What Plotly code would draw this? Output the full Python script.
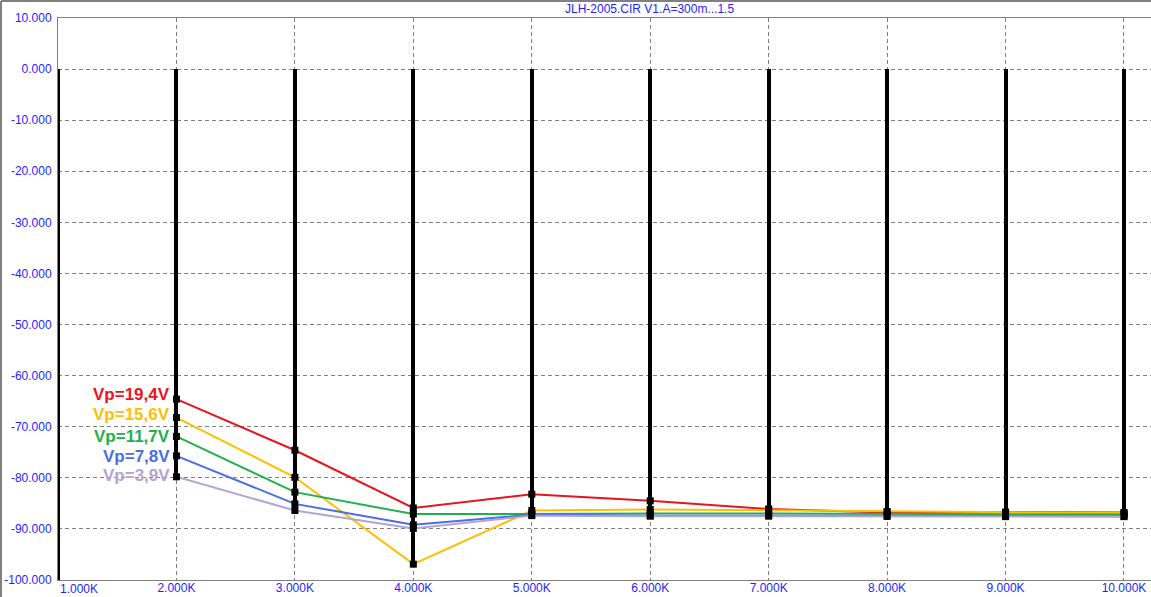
import plotly.graph_objects as go

# ---- data ----
freq = [2000, 3000, 4000, 5000, 6000, 7000, 8000, 9000, 10000]
vp_19_4 = [-64.6, -74.6, -85.9, -83.2, -84.5, -86.1, -86.8, -86.7, -86.8]
vp_15_6 = [-68.2, -79.9, -96.9, -86.4, -86.2, -86.4, -86.6, -86.8, -86.9]
vp_11_7 = [-71.9, -82.8, -87.1, -87.0, -87.0, -87.0, -87.1, -87.2, -87.2]
vp_7_8 = [-75.7, -85.1, -89.2, -87.2, -87.4, -87.4, -87.5, -87.5, -87.5]
vp_3_9 = [-79.8, -86.4, -89.9, -87.4, -87.5, -87.5, -87.5, -87.6, -87.6]

impulse_freq = [1000, 2000, 3000, 4000, 5000, 6000, 7000, 8000, 9000, 10000]
impulse_db = [-110, -80.0, -86.5, -97.0, -87.5, -87.6, -87.6, -88.2, -87.6, -87.6]

series_names = ["Vp=19,4V", "Vp=15,6V", "Vp=11,7V", "Vp=7,8V", "Vp=3,9V"]
series_values = [vp_19_4, vp_15_6, vp_11_7, vp_7_8, vp_3_9]
series_colors = ["#e8141e", "#ffbf00", "#22b04c", "#4a6ee8", "#b4a4d4"]
label_y = [-63.6, -67.6, -71.9, -75.8, -79.6]

x_tickvals = [2000, 3000, 4000, 5000, 6000, 7000, 8000, 9000, 10000]
x_ticktext = ["2.000K", "3.000K", "4.000K", "5.000K", "6.000K", "7.000K", "8.000K", "9.000K", "10.000K"]
y_tickvals = [10, 0, -10, -20, -30, -40, -50, -60, -70, -80, -90, -100]
y_ticktext = ["10.000", "0.000", "-10.000", "-20.000", "-30.000", "-40.000", "-50.000",
              "-60.000", "-70.000", "-80.000", "-90.000", "-100.000"]
title_text = "JLH-2005.CIR V1.A=300m...1.5"

FONT = "Liberation Sans, Arial, sans-serif"
TICK_COLOR = "#1e1eff"
W, H = 1151, 597
ML, MR, MT, MB = 58, 0, 18, 17

fig = go.Figure()

fig.add_trace(go.Bar(
    x=impulse_freq, y=impulse_db, width=34,
    marker=dict(color="black", line=dict(width=0)),
    showlegend=False, hoverinfo="skip",
))

for name, vals, col in zip(series_names, series_values, series_colors):
    fig.add_trace(go.Scatter(
        x=freq, y=vals, name=name, mode="lines+markers",
        line=dict(color=col, width=2),
        marker=dict(symbol="square", size=7, color="black", line=dict(width=0)),
        showlegend=False,
    ))

annotations = []
for name, ly, col in zip(series_names, label_y, series_colors):
    annotations.append(dict(
        x=1960, y=ly, xref="x", yref="y", text="<b>%s</b>" % name,
        showarrow=False, xanchor="right", yanchor="middle",
        font=dict(family=FONT, size=17, color=col),
    ))
# 1.000K label (left aligned at axis)
annotations.append(dict(
    x=0, y=0, xref="paper", yref="paper", text="1.000K", showarrow=False,
    xanchor="left", yanchor="top", yshift=0,
    font=dict(family=FONT, size=12, color=TICK_COLOR),
))
# title in top strip
pw = W - ML - MR
ph = H - MT - MB
annotations.append(dict(
    x=(649 - ML) / pw, y=1 + 9 / ph, xref="paper", yref="paper", text=title_text,
    showarrow=False, xanchor="center", yanchor="middle",
    font=dict(family=FONT, size=12, color=TICK_COLOR),
))

# outer frame: top and left edges only
fx0 = (-ML + 1) / pw
fy1 = 1 + (MT - 1) / ph
fy0 = -MB / ph
shapes = [
    dict(type="line", xref="paper", yref="paper", x0=fx0, x1=1, y0=fy1, y1=fy1,
         line=dict(color="#808080", width=2), layer="above"),
    dict(type="line", xref="paper", yref="paper", x0=fx0, x1=fx0, y0=fy0, y1=fy1,
         line=dict(color="#808080", width=2), layer="above"),
]

fig.update_layout(
    template="none",
    width=W, height=H,
    margin=dict(l=ML, r=MR, t=MT, b=MB, pad=0, autoexpand=False),
    paper_bgcolor="white", plot_bgcolor="white",
    font=dict(family=FONT, size=12, color=TICK_COLOR),
    annotations=annotations, shapes=shapes,
    bargap=0,
)
fig.update_xaxes(
    automargin=False,
    range=[1000, 10228], tickvals=x_tickvals, ticktext=x_ticktext,
    showgrid=True, gridcolor="#808080", griddash="4px,3px", gridwidth=1,
    showline=True, linecolor="#808080", linewidth=1, mirror=True,
    zeroline=False, ticks="", tickfont=dict(family=FONT, size=12, color=TICK_COLOR),
    ticklabelstandoff=-3,
)
fig.update_yaxes(
    automargin=False,
    range=[-100, 10], tickvals=y_tickvals, ticktext=y_ticktext,
    showgrid=True, gridcolor="#808080", griddash="4px,3px", gridwidth=1,
    showline=True, linecolor="#808080", linewidth=1,
    zeroline=False, ticks="", tickfont=dict(family=FONT, size=12, color=TICK_COLOR),
    ticklabelstandoff=3,
)

fig.write_html(
    "out.html",
    config={"displayModeBar": False},
    post_script="document.body.style.margin='0';document.body.style.overflow='hidden';",
)
